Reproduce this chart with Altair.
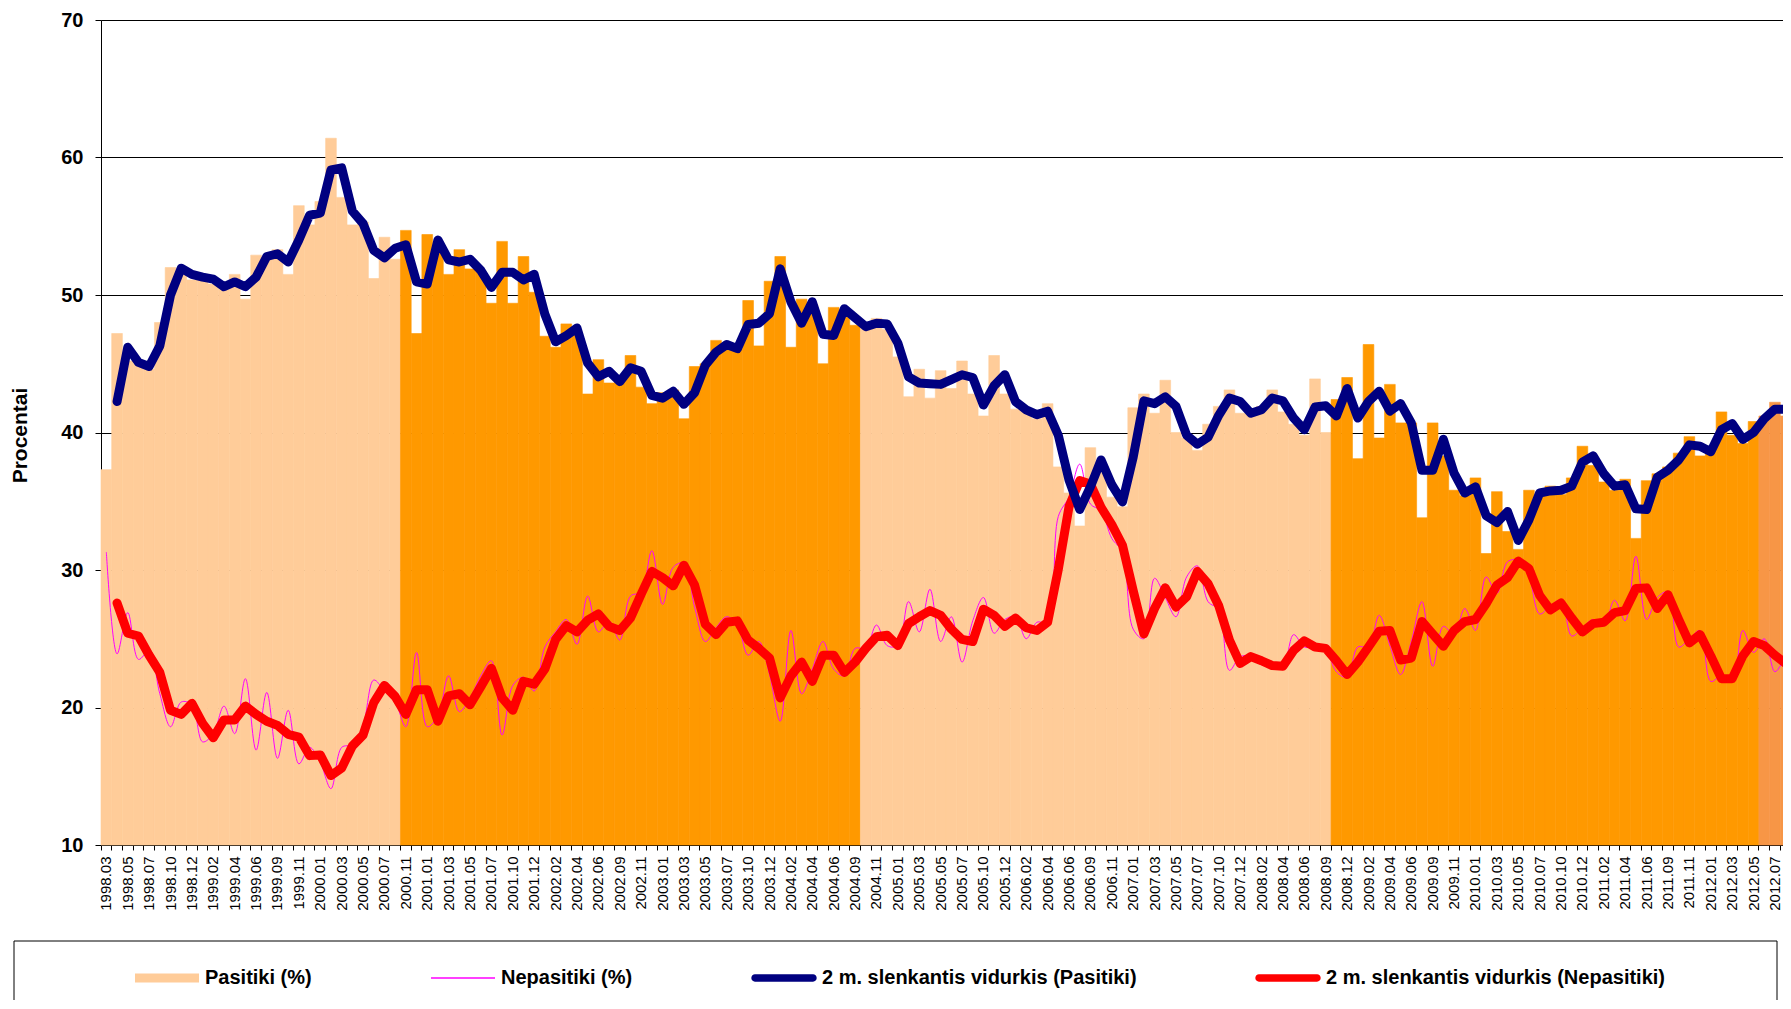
import json
import altair as alt
import pandas as pd

axis_labels = [
    "1998.03", "1998.05", "1998.07", "1998.10", "1998.12",
    "1999.02", "1999.04", "1999.06", "1999.09", "1999.11",
    "2000.01", "2000.03", "2000.05", "2000.07", "2000.11",
    "2001.01", "2001.03", "2001.05", "2001.07", "2001.10", "2001.12",
    "2002.02", "2002.04", "2002.06", "2002.09", "2002.11",
    "2003.01", "2003.03", "2003.05", "2003.07", "2003.10", "2003.12",
    "2004.02", "2004.04", "2004.06", "2004.09", "2004.11",
    "2005.01", "2005.03", "2005.05", "2005.07", "2005.10", "2005.12",
    "2006.02", "2006.04", "2006.06", "2006.09", "2006.11",
    "2007.01", "2007.03", "2007.05", "2007.07", "2007.10", "2007.12",
    "2008.02", "2008.04", "2008.06", "2008.09", "2008.12",
    "2009.02", "2009.04", "2009.06", "2009.09", "2009.11",
    "2010.01", "2010.03", "2010.05", "2010.07", "2010.10", "2010.12",
    "2011.02", "2011.04", "2011.06", "2011.09", "2011.11",
    "2012.01", "2012.03", "2012.05", "2012.07",
]

pasitiki = [
    37.3, 47.2, 45.2, 45.0, 44.6, 48.0, 52.0, 51.9, 51.1, 51.5,
    50.8, 50.4, 51.5, 49.7, 52.9, 52.7, 53.3, 51.5, 56.5, 55.1,
    56.8, 61.4, 57.1, 55.1, 55.3, 51.2, 54.2, 52.6, 54.7, 47.2,
    54.4, 53.6, 51.5, 53.3, 51.9, 51.7, 49.4, 53.9, 49.4, 52.8,
    50.2, 47.0, 46.2, 47.9, 47.3, 42.8, 45.3, 43.6, 43.8, 45.6,
    43.3, 42.1, 42.9, 43.1, 41.0, 44.8, 45.0, 46.7, 46.1, 46.1,
    49.6, 46.3, 51.0, 52.8, 46.2, 49.7, 49.3, 45.0, 49.1, 48.9,
    47.8, 47.6, 48.3, 47.5, 45.5, 42.6, 44.6, 42.5, 44.5, 43.2,
    45.2, 42.8, 41.2, 45.6, 42.8, 41.7, 41.6, 41.0, 42.1, 37.5,
    35.6, 33.2, 38.9, 37.1, 35.3, 34.6, 41.8, 42.8, 41.4, 43.8,
    40.0, 39.6, 38.7, 40.6, 41.9, 43.1, 41.4, 41.4, 41.9, 43.1,
    41.5, 40.6, 39.8, 43.9, 40.0, 42.4, 44.0, 38.1, 46.4, 39.6,
    43.5, 40.7, 40.7, 33.8, 40.7, 38.3, 35.8, 35.4, 36.7, 31.2,
    35.7, 32.8, 31.5, 35.8, 35.4, 36.1, 35.5, 36.7, 39.0, 37.6,
    36.4, 35.8, 36.6, 32.3, 36.5, 37.0, 37.5, 38.5, 39.7, 38.3,
    38.9, 41.5, 39.8, 39.2, 40.8, 41.2, 42.2, 41.2,
]

nepasitiki = [
    31.3, 23.9, 26.9, 23.5, 24.1, 21.0, 18.6, 20.4, 20.2, 17.5,
    18.1, 20.1, 18.1, 22.1, 16.9, 21.1, 16.3, 19.8, 15.9, 17.1,
    16.0, 14.1, 17.1, 17.3, 18.7, 22.0, 21.2, 20.4, 18.6, 24.0,
    18.6, 19.4, 22.3, 19.7, 20.7, 22.3, 23.4, 18.0, 21.6, 22.2,
    21.2, 24.4, 25.5, 26.4, 24.6, 28.1, 25.5, 26.3, 24.9, 28.1,
    28.4, 31.4, 27.5, 30.2, 30.5, 27.3, 24.8, 25.8, 26.6, 26.0,
    23.8, 24.8, 22.4, 19.0, 25.6, 21.0, 22.8, 24.8, 22.8, 22.3,
    24.3, 24.3, 26.0, 24.5, 24.5, 27.7, 25.5, 28.6, 24.8, 26.6,
    23.3, 26.3, 28.0, 25.4, 26.4, 26.6, 25.0, 26.2, 26.2, 33.9,
    35.3, 37.7, 34.8, 34.3, 32.3, 31.3, 25.7, 25.0, 29.4, 28.0,
    26.6, 29.5, 30.3, 27.7, 27.1, 22.7, 23.7, 23.7, 23.1, 23.0,
    23.0, 25.3, 24.4, 24.4, 24.2, 22.6, 22.2, 24.4, 24.4, 26.7,
    24.5, 22.4, 24.8, 27.7, 23.0, 25.9, 25.3, 27.2, 25.6, 29.5,
    28.3, 30.6, 30.7, 29.5, 26.8, 27.4, 27.8, 25.2, 25.8, 26.4,
    26.0, 27.8, 26.3, 31.0, 26.4, 28.0, 28.4, 24.4, 25.0, 25.6,
    21.9, 22.3, 21.9, 25.6, 24.0, 25.0, 22.6, 23.8,
]

# colour periods of the bars: first category index of each period and its key
period_starts = [0, 28, 71, 115, 155]
period_keys = ["a", "b", "a", "b", "c"]
period_colors = {"a": "#FFCC99", "b": "#FF9900", "c": "#F79646"}

series_names = [
    "Pasitiki (%)",
    "Nepasitiki (%)",
    "2 m. slenkantis vidurkis (Pasitiki)",
    "2 m. slenkantis vidurkis (Nepasitiki)",
]
series_colors = ["#FFCC99", "#FF00FF", "#000080", "#FF0000"]

n_cat = len(pasitiki)


def period_of(i):
    key = period_keys[0]
    for s, k in zip(period_starts, period_keys):
        if i >= s:
            key = k
    return key


df = pd.DataFrame({
    "idx": list(range(n_cat)),
    "p": pasitiki,
    "n": nepasitiki,
    "period": [period_of(i) for i in range(n_cat)],
})

FONT = "Liberation Sans"
label_expr = "datum.value % 2 == 0 ? " + json.dumps(axis_labels) + "[datum.value / 2] : ''"

x_enc = alt.X(
    "idx:O",
    scale=alt.Scale(paddingInner=0, paddingOuter=0),
    axis=alt.Axis(
        values=list(range(n_cat)),
        labelExpr=label_expr,
        labelAngle=270,
        labelAlign="right",
        labelBaseline="middle",
        labelFont=FONT,
        labelFontSize=15,
        labelColor="black",
        labelOverlap=False,
        labelBound=False,
        labelPadding=6,
        tickSize=5,
        tickColor="black",
        domainColor="black",
        bandPosition=0,
        grid=False,
        title=None,
    ),
)

y_scale = alt.Scale(domain=[10, 70], nice=False, zero=False)
y_axis = alt.Axis(
    values=[10, 20, 30, 40, 50, 60, 70],
    labelFont=FONT,
    labelFontSize=20,
    labelFontWeight="bold",
    labelColor="black",
    labelPadding=12,
    tickSize=6,
    tickColor="black",
    domainColor="black",
    grid=True,
    gridColor="black",
    gridWidth=1,
    title="Procentai",
    titleFont=FONT,
    titleFontSize=21,
    titleFontWeight="bold",
    titleColor="black",
    titleAngle=270,
    titleAlign="center",
    titleBaseline="middle",
    titleX=-81,
    titleY=415,
)

fill_scale = alt.Scale(domain=list(period_colors.keys()), range=list(period_colors.values()))

bars = alt.Chart(df).mark_bar(strokeWidth=0.6).encode(
    x=x_enc,
    y=alt.Y("p:Q", scale=y_scale, axis=y_axis),
    y2=alt.datum(10),
    fill=alt.Fill("period:N", scale=fill_scale, legend=None),
    stroke=alt.Stroke("period:N", scale=fill_scale, legend=None),
)

thin = alt.Chart(df).mark_line(
    color="#FF00FF", strokeWidth=1, interpolate="catmull-rom"
).encode(
    x="idx:O",
    y="n:Q",
)

ma_red = alt.Chart(df).transform_window(
    ma="mean(n)", frame=[-1, 0], sort=[alt.SortField("idx")]
).transform_filter("datum.idx > 0").mark_line(
    color="#FF0000", strokeWidth=9, strokeCap="round", strokeJoin="round"
).encode(x="idx:O", y="ma:Q")

ma_navy = alt.Chart(df).transform_window(
    ma="mean(p)", frame=[-1, 0], sort=[alt.SortField("idx")]
).transform_filter("datum.idx > 0").mark_line(
    color="#000080", strokeWidth=9, strokeCap="round", strokeJoin="round"
).encode(x="idx:O", y="ma:Q")

legend_paths = [
    "M-0.97,-0.14H0.97V0.14H-0.97Z",
    "M-0.97,-0.02H0.97V0.02H-0.97Z",
    "M-0.88,-0.11H0.88A0.11,0.11,0,0,1,0.88,0.11H-0.88A0.11,0.11,0,0,1,-0.88,-0.11Z",
    "M-0.88,-0.11H0.88A0.11,0.11,0,0,1,0.88,0.11H-0.88A0.11,0.11,0,0,1,-0.88,-0.11Z",
]

legend_def = dict(
    orient="none",
    legendX=33,
    legendY=925,
    direction="horizontal",
    columns=4,
    columnPadding=118,
    labelOffset=5,
    labelFont=FONT,
    labelFontSize=20,
    labelFontWeight="bold",
    labelColor="black",
    labelLimit=600,
    symbolSize=4356,
    symbolStrokeWidth=0,
    symbolOpacity=1,
    padding=0,
    title=None,
)

legend_df = pd.DataFrame({"series": series_names})
legend_layer = alt.Chart(legend_df).transform_filter("false").mark_point(
    filled=True, size=4356
).encode(
    color=alt.Color("series:N", scale=alt.Scale(domain=series_names, range=series_colors),
                    legend=alt.Legend(**legend_def)),
    shape=alt.Shape("series:N", scale=alt.Scale(domain=series_names, range=legend_paths),
                    legend=alt.Legend(**legend_def)),
)

frame = alt.Chart(alt.Data(values=[{"k": 1}])).mark_rect(
    fillOpacity=0, stroke="black", strokeWidth=1
).encode(
    x=alt.value(-87), x2=alt.value(1676), y=alt.value(921), y2=alt.value(1010)
)

chart = alt.layer(bars, thin, ma_red, ma_navy, legend_layer, frame).properties(
    width=1690,
    height=825,
    autosize=alt.AutoSizeParams(type="none"),
    padding={"left": 93, "top": 12, "right": -8, "bottom": 155},
).configure_view(stroke=None).configure(background="white")

chart.save("out.html", embed_options={"renderer": "svg", "actions": False})
